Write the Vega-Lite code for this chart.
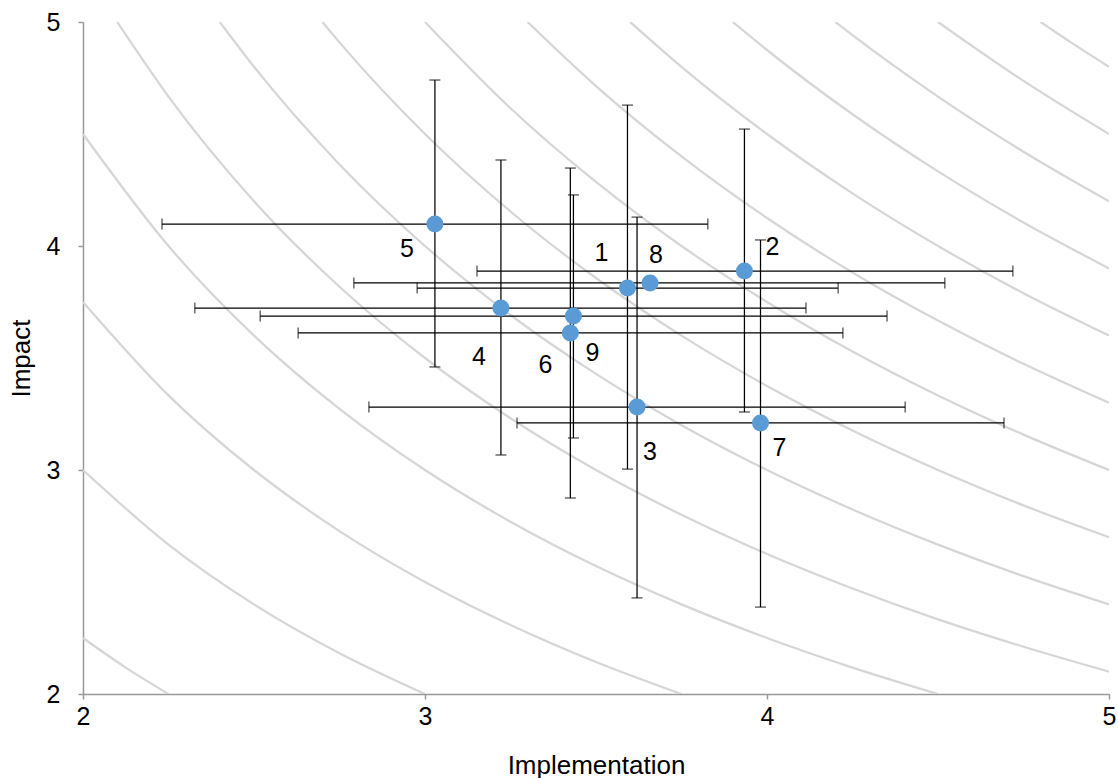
{
  "$schema": "https://vega.github.io/schema/vega-lite/v6.json",
  "width": 1026,
  "height": 672,
  "autosize": "none",
  "padding": {"left": 83, "top": 22, "right": 9, "bottom": 84},
  "background": "white",
  "config": {
    "view": {"stroke": null},
    "font": "Liberation Sans",
    "axis": {
      "grid": false,
      "domainColor": "#999999",
      "domainWidth": 1.5,
      "tickColor": "#999999",
      "tickWidth": 1.5,
      "tickSize": 5,
      "labelColor": "#000000",
      "titleColor": "#000000",
      "labelFont": "Liberation Sans",
      "titleFont": "Liberation Sans",
      "labelFontSize": 25,
      "titleFontSize": 26,
      "titleFontWeight": "normal",
      "labelFlush": false,
      "labelOverlap": false,
      "format": "d"
    }
  },
  "datasets": {
    "pts": [
      {"id": "1", "x": 3.592, "y": 3.8125, "xlo": 2.977, "xhi": 4.208, "ylo": 3.004, "yhi": 4.629},
      {"id": "2", "x": 3.934, "y": 3.888, "xlo": 3.152, "xhi": 4.719, "ylo": 3.259, "yhi": 4.522},
      {"id": "3", "x": 3.620, "y": 3.281, "xlo": 2.836, "xhi": 4.404, "ylo": 2.429, "yhi": 4.129},
      {"id": "4", "x": 3.222, "y": 3.723, "xlo": 2.327, "xhi": 4.114, "ylo": 3.067, "yhi": 4.384},
      {"id": "5", "x": 3.029, "y": 4.098, "xlo": 2.231, "xhi": 3.827, "ylo": 3.460, "yhi": 4.741},
      {"id": "6", "x": 3.425, "y": 3.612, "xlo": 2.629, "xhi": 4.222, "ylo": 2.875, "yhi": 4.348},
      {"id": "7", "x": 3.981, "y": 3.210, "xlo": 3.269, "xhi": 4.693, "ylo": 2.388, "yhi": 4.027},
      {"id": "8", "x": 3.658, "y": 3.835, "xlo": 2.792, "xhi": 4.520, "ylo": null, "yhi": null},
      {"id": "9", "x": 3.434, "y": 3.6875, "xlo": 2.518, "xhi": 4.351, "ylo": 3.143, "yhi": 4.228}
    ],
    "curves": [
      {"c": 4.5, "x": 2, "y": 2.25}, {"c": 4.5, "x": 2.125, "y": 2.118}, {"c": 4.5, "x": 2.25, "y": 2},
      {"c": 6, "x": 2, "y": 3}, {"c": 6, "x": 2.25, "y": 2.667}, {"c": 6, "x": 2.5, "y": 2.4}, {"c": 6, "x": 2.75, "y": 2.182}, {"c": 6, "x": 3, "y": 2},
      {"c": 7.5, "x": 2, "y": 3.75}, {"c": 7.5, "x": 2.25, "y": 3.333}, {"c": 7.5, "x": 2.5, "y": 3}, {"c": 7.5, "x": 2.75, "y": 2.727}, {"c": 7.5, "x": 3, "y": 2.5}, {"c": 7.5, "x": 3.25, "y": 2.308}, {"c": 7.5, "x": 3.5, "y": 2.143}, {"c": 7.5, "x": 3.75, "y": 2},
      {"c": 9, "x": 2, "y": 4.5}, {"c": 9, "x": 2.25, "y": 4}, {"c": 9, "x": 2.5, "y": 3.6}, {"c": 9, "x": 2.75, "y": 3.273}, {"c": 9, "x": 3, "y": 3}, {"c": 9, "x": 3.25, "y": 2.769}, {"c": 9, "x": 3.5, "y": 2.571}, {"c": 9, "x": 3.75, "y": 2.4}, {"c": 9, "x": 4, "y": 2.25}, {"c": 9, "x": 4.25, "y": 2.118}, {"c": 9, "x": 4.5, "y": 2},
      {"c": 10.5, "x": 2.1, "y": 5}, {"c": 10.5, "x": 2.25, "y": 4.667}, {"c": 10.5, "x": 2.5, "y": 4.2}, {"c": 10.5, "x": 2.75, "y": 3.818}, {"c": 10.5, "x": 3, "y": 3.5}, {"c": 10.5, "x": 3.25, "y": 3.231}, {"c": 10.5, "x": 3.5, "y": 3}, {"c": 10.5, "x": 3.75, "y": 2.8}, {"c": 10.5, "x": 4, "y": 2.625}, {"c": 10.5, "x": 4.25, "y": 2.471}, {"c": 10.5, "x": 4.5, "y": 2.333}, {"c": 10.5, "x": 4.75, "y": 2.211}, {"c": 10.5, "x": 5, "y": 2.1},
      {"c": 12, "x": 2.4, "y": 5}, {"c": 12, "x": 2.5, "y": 4.8}, {"c": 12, "x": 2.75, "y": 4.364}, {"c": 12, "x": 3, "y": 4}, {"c": 12, "x": 3.25, "y": 3.692}, {"c": 12, "x": 3.5, "y": 3.429}, {"c": 12, "x": 3.75, "y": 3.2}, {"c": 12, "x": 4, "y": 3}, {"c": 12, "x": 4.25, "y": 2.824}, {"c": 12, "x": 4.5, "y": 2.667}, {"c": 12, "x": 4.75, "y": 2.526}, {"c": 12, "x": 5, "y": 2.4},
      {"c": 13.5, "x": 2.7, "y": 5}, {"c": 13.5, "x": 2.75, "y": 4.909}, {"c": 13.5, "x": 3, "y": 4.5}, {"c": 13.5, "x": 3.25, "y": 4.154}, {"c": 13.5, "x": 3.5, "y": 3.857}, {"c": 13.5, "x": 3.75, "y": 3.6}, {"c": 13.5, "x": 4, "y": 3.375}, {"c": 13.5, "x": 4.25, "y": 3.176}, {"c": 13.5, "x": 4.5, "y": 3}, {"c": 13.5, "x": 4.75, "y": 2.842}, {"c": 13.5, "x": 5, "y": 2.7},
      {"c": 15, "x": 3, "y": 5}, {"c": 15, "x": 3.25, "y": 4.615}, {"c": 15, "x": 3.5, "y": 4.286}, {"c": 15, "x": 3.75, "y": 4}, {"c": 15, "x": 4, "y": 3.75}, {"c": 15, "x": 4.25, "y": 3.529}, {"c": 15, "x": 4.5, "y": 3.333}, {"c": 15, "x": 4.75, "y": 3.158}, {"c": 15, "x": 5, "y": 3},
      {"c": 16.5, "x": 3.3, "y": 5}, {"c": 16.5, "x": 3.5, "y": 4.714}, {"c": 16.5, "x": 3.75, "y": 4.4}, {"c": 16.5, "x": 4, "y": 4.125}, {"c": 16.5, "x": 4.25, "y": 3.882}, {"c": 16.5, "x": 4.5, "y": 3.667}, {"c": 16.5, "x": 4.75, "y": 3.474}, {"c": 16.5, "x": 5, "y": 3.3},
      {"c": 18, "x": 3.6, "y": 5}, {"c": 18, "x": 3.75, "y": 4.8}, {"c": 18, "x": 4, "y": 4.5}, {"c": 18, "x": 4.25, "y": 4.235}, {"c": 18, "x": 4.5, "y": 4}, {"c": 18, "x": 4.75, "y": 3.789}, {"c": 18, "x": 5, "y": 3.6},
      {"c": 19.5, "x": 3.9, "y": 5}, {"c": 19.5, "x": 4, "y": 4.875}, {"c": 19.5, "x": 4.25, "y": 4.588}, {"c": 19.5, "x": 4.5, "y": 4.333}, {"c": 19.5, "x": 4.75, "y": 4.105}, {"c": 19.5, "x": 5, "y": 3.9},
      {"c": 21, "x": 4.2, "y": 5}, {"c": 21, "x": 4.25, "y": 4.941}, {"c": 21, "x": 4.5, "y": 4.667}, {"c": 21, "x": 4.75, "y": 4.421}, {"c": 21, "x": 5, "y": 4.2},
      {"c": 22.5, "x": 4.5, "y": 5}, {"c": 22.5, "x": 4.75, "y": 4.737}, {"c": 22.5, "x": 5, "y": 4.5},
      {"c": 24, "x": 4.8, "y": 5}, {"c": 24, "x": 4.9, "y": 4.898}, {"c": 24, "x": 5, "y": 4.8}
    ]
  },
  "layer": [
    {
      "data": {"name": "curves"},
      "mark": {"type": "line", "color": "#d6d6d6", "strokeWidth": 2.25, "interpolate": "monotone", "clip": true},
      "encoding": {
        "x": {"field": "x", "type": "quantitative", "scale": {"domain": [2, 5], "nice": false, "zero": false}, "axis": {"values": [2, 3, 4, 5], "title": "Implementation", "labelPadding": 5, "titlePadding": 23}},
        "y": {"field": "y", "type": "quantitative", "scale": {"domain": [2, 5], "nice": false, "zero": false}, "axis": {"values": [2, 3, 4, 5], "title": "Impact", "labelPadding": 18, "titlePadding": 12}},
        "detail": {"field": "c", "type": "nominal"},
        "order": {"field": "x", "type": "quantitative"}
      }
    },
    {
      "data": {"name": "pts"},
      "mark": {"type": "rule", "color": "#000000", "strokeWidth": 1.25},
      "encoding": {
        "x": {"field": "xlo", "type": "quantitative"},
        "x2": {"field": "xhi"},
        "y": {"field": "y", "type": "quantitative"}
      }
    },
    {
      "data": {"name": "pts"},
      "transform": [{"filter": "datum.ylo != null"}],
      "mark": {"type": "rule", "color": "#000000", "strokeWidth": 1.25},
      "encoding": {
        "x": {"field": "x", "type": "quantitative"},
        "y": {"field": "ylo", "type": "quantitative"},
        "y2": {"field": "yhi"}
      }
    },
    {
      "data": {"name": "pts"},
      "mark": {"type": "tick", "orient": "vertical", "color": "#000000", "size": 11, "thickness": 1.25},
      "encoding": {"x": {"field": "xlo", "type": "quantitative"}, "y": {"field": "y", "type": "quantitative"}}
    },
    {
      "data": {"name": "pts"},
      "mark": {"type": "tick", "orient": "vertical", "color": "#000000", "size": 11, "thickness": 1.25},
      "encoding": {"x": {"field": "xhi", "type": "quantitative"}, "y": {"field": "y", "type": "quantitative"}}
    },
    {
      "data": {"name": "pts"},
      "transform": [{"filter": "datum.ylo != null"}],
      "mark": {"type": "tick", "orient": "horizontal", "color": "#000000", "size": 11, "thickness": 1.25},
      "encoding": {"x": {"field": "x", "type": "quantitative"}, "y": {"field": "ylo", "type": "quantitative"}}
    },
    {
      "data": {"name": "pts"},
      "transform": [{"filter": "datum.yhi != null"}],
      "mark": {"type": "tick", "orient": "horizontal", "color": "#000000", "size": 11, "thickness": 1.25},
      "encoding": {"x": {"field": "x", "type": "quantitative"}, "y": {"field": "yhi", "type": "quantitative"}}
    },
    {
      "data": {"name": "pts"},
      "mark": {"type": "circle", "color": "#5b9bd5", "opacity": 1, "size": 290},
      "encoding": {"x": {"field": "x", "type": "quantitative"}, "y": {"field": "y", "type": "quantitative"}}
    },
    {"data": {"name": "pts"}, "transform": [{"filter": "datum.id == '1'"}], "mark": {"type": "text", "fontSize": 25, "color": "#000000", "align": "center", "baseline": "middle", "dx": -26, "dy": -35}, "encoding": {"x": {"field": "x", "type": "quantitative"}, "y": {"field": "y", "type": "quantitative"}, "text": {"field": "id"}}},
    {"data": {"name": "pts"}, "transform": [{"filter": "datum.id == '2'"}], "mark": {"type": "text", "fontSize": 25, "color": "#000000", "align": "center", "baseline": "middle", "dx": 28, "dy": -24}, "encoding": {"x": {"field": "x", "type": "quantitative"}, "y": {"field": "y", "type": "quantitative"}, "text": {"field": "id"}}},
    {"data": {"name": "pts"}, "transform": [{"filter": "datum.id == '3'"}], "mark": {"type": "text", "fontSize": 25, "color": "#000000", "align": "center", "baseline": "middle", "dx": 13, "dy": 45}, "encoding": {"x": {"field": "x", "type": "quantitative"}, "y": {"field": "y", "type": "quantitative"}, "text": {"field": "id"}}},
    {"data": {"name": "pts"}, "transform": [{"filter": "datum.id == '4'"}], "mark": {"type": "text", "fontSize": 25, "color": "#000000", "align": "center", "baseline": "middle", "dx": -22, "dy": 49}, "encoding": {"x": {"field": "x", "type": "quantitative"}, "y": {"field": "y", "type": "quantitative"}, "text": {"field": "id"}}},
    {"data": {"name": "pts"}, "transform": [{"filter": "datum.id == '5'"}], "mark": {"type": "text", "fontSize": 25, "color": "#000000", "align": "center", "baseline": "middle", "dx": -28, "dy": 25}, "encoding": {"x": {"field": "x", "type": "quantitative"}, "y": {"field": "y", "type": "quantitative"}, "text": {"field": "id"}}},
    {"data": {"name": "pts"}, "transform": [{"filter": "datum.id == '6'"}], "mark": {"type": "text", "fontSize": 25, "color": "#000000", "align": "center", "baseline": "middle", "dx": -25, "dy": 32}, "encoding": {"x": {"field": "x", "type": "quantitative"}, "y": {"field": "y", "type": "quantitative"}, "text": {"field": "id"}}},
    {"data": {"name": "pts"}, "transform": [{"filter": "datum.id == '7'"}], "mark": {"type": "text", "fontSize": 25, "color": "#000000", "align": "center", "baseline": "middle", "dx": 19, "dy": 25}, "encoding": {"x": {"field": "x", "type": "quantitative"}, "y": {"field": "y", "type": "quantitative"}, "text": {"field": "id"}}},
    {"data": {"name": "pts"}, "transform": [{"filter": "datum.id == '8'"}], "mark": {"type": "text", "fontSize": 25, "color": "#000000", "align": "center", "baseline": "middle", "dx": 6, "dy": -28}, "encoding": {"x": {"field": "x", "type": "quantitative"}, "y": {"field": "y", "type": "quantitative"}, "text": {"field": "id"}}},
    {"data": {"name": "pts"}, "transform": [{"filter": "datum.id == '9'"}], "mark": {"type": "text", "fontSize": 25, "color": "#000000", "align": "center", "baseline": "middle", "dx": 19, "dy": 37}, "encoding": {"x": {"field": "x", "type": "quantitative"}, "y": {"field": "y", "type": "quantitative"}, "text": {"field": "id"}}}
  ]
}
